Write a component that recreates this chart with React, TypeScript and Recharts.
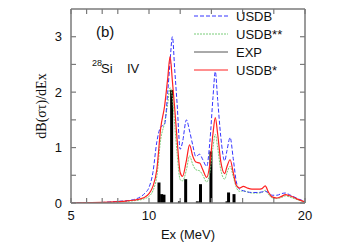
import { ComposedChart, Line, XAxis, YAxis, ReferenceLine } from "recharts"

// excitation energy grid (MeV) for the smoothed curves
const energy = [5, 6, 7, 8, 8.5, 9, 9.5, 9.75, 10, 10.25, 10.5, 10.75, 11, 11.2, 11.35, 11.5, 11.65, 11.8, 12, 12.15, 12.4, 12.6, 12.8, 13, 13.25, 13.45, 13.7, 13.9, 14.1, 14.25, 14.4, 14.6, 14.85, 15, 15.2, 15.4, 15.6, 15.8, 16.05, 16.3, 16.6, 17, 17.25, 17.45, 17.65, 17.9, 18.2, 18.5, 18.75, 19, 19.3, 19.6, 20]

const usdb = [0, 0.005, 0.01, 0.03, 0.04, 0.06, 0.12, 0.18, 0.28, 0.55, 1.1, 1.37, 1.42, 2.0, 2.55, 3.0, 2.4, 1.8, 0.97, 1.1, 1.5, 1.3, 1.05, 0.84, 0.88, 0.78, 0.66, 1.1, 1.9, 2.37, 1.87, 1.2, 0.76, 0.95, 1.18, 0.8, 0.38, 0.25, 0.22, 0.2, 0.19, 0.19, 0.2, 0.21, 0.19, 0.14, 0.14, 0.17, 0.18, 0.15, 0.11, 0.07, 0.03]

const usdbStar = [0, 0.005, 0.01, 0.025, 0.035, 0.05, 0.08, 0.11, 0.17, 0.3, 0.6, 1.35, 1.75, 2.25, 2.64, 2.2, 1.7, 1.15, 0.55, 0.48, 0.77, 1.05, 0.85, 0.74, 0.72, 0.6, 0.46, 0.7, 1.25, 1.54, 1.25, 0.75, 0.53, 0.66, 0.78, 0.55, 0.32, 0.27, 0.3, 0.27, 0.25, 0.25, 0.26, 0.31, 0.2, 0.11, 0.09, 0.12, 0.15, 0.13, 0.1, 0.06, 0.02]

const usdbStar2 = [0, 0.003, 0.008, 0.02, 0.03, 0.04, 0.06, 0.08, 0.12, 0.22, 0.48, 1.15, 1.45, 1.8, 2.08, 1.9, 1.4, 0.9, 0.42, 0.4, 0.6, 0.85, 0.7, 0.6, 0.58, 0.5, 0.38, 0.55, 1.0, 1.24, 1.0, 0.6, 0.43, 0.55, 0.66, 0.48, 0.28, 0.21, 0.22, 0.2, 0.18, 0.18, 0.19, 0.23, 0.16, 0.09, 0.08, 0.1, 0.13, 0.11, 0.08, 0.05, 0.02]

// experimental strengths
const expEnergy = [10.64, 10.81, 10.96, 11.45, 11.95, 12.35, 13.1, 13.3, 13.97, 15.0, 15.1, 15.45]
const expStrength = [0.37, 0.16, 0.15, 2.04, 0.03, 0.43, 0.03, 0.34, 0.93, 0.03, 0.19, 0.16]

const xTicks = [5, 6, 7, 8, 9, 10, 11, 12, 13, 14, 15, 16, 17, 18, 19, 20]
const yTicks = [0, 0.5, 1, 1.5, 2, 2.5, 3]

const legendItems = [
  { label: "USDB", color: "#3535ff", dash: "4 2" },
  { label: "USDB**", color: "#78cc78", dash: "2 1" },
  { label: "EXP", color: "#555", dash: undefined },
  { label: "USDB*", color: "#ff2020", dash: undefined },
]

const rows = energy.map((E, i) => ({ E, usdb: usdb[i], usdbStar: usdbStar[i], usdbStar2: usdbStar2[i] }))

const frame = "#7a7a7a"
const sans = "'Liberation Sans', Arial, sans-serif"

function BottomTick({ x, y, payload }: any) {
  const major = payload.value % 5 === 0
  return (
    <g>
      <line x1={x} y1={y} x2={x} y2={y - 5} stroke={frame} strokeWidth={1.2} />
      {major && (
        <text x={x} y={y + 17} textAnchor="middle" fontSize={13} fontFamily={sans} fill="#111">
          {payload.value}
        </text>
      )}
    </g>
  )
}

function TopTick({ x, y }: any) {
  return <line x1={x} y1={y} x2={x} y2={y + 5} stroke={frame} strokeWidth={1.2} />
}

function LeftTick({ x, y, payload }: any) {
  const major = Number.isInteger(payload.value)
  return (
    <g>
      <line x1={x} y1={y} x2={x + 5} y2={y} stroke={frame} strokeWidth={1.2} />
      {major && (
        <text x={x - 9} y={y + 4.5} textAnchor="end" fontSize={13} fontFamily={sans} fill="#111">
          {payload.value}
        </text>
      )}
    </g>
  )
}

function RightTick({ x, y }: any) {
  return <line x1={x} y1={y} x2={x - 5} y2={y} stroke={frame} strokeWidth={1.2} />
}

export default function App() {
  return (
    <div style={{ position: "absolute", left: 0, top: 0, width: 351, height: 248, background: "#fff" }}>
      <ComposedChart width={351} height={248} data={rows} margin={{ top: 8, right: 45, left: 31, bottom: 15 }}>
        <XAxis dataKey="E" type="number" domain={[5, 20]} ticks={xTicks} allowDataOverflow
          height={30} tickSize={0} tickMargin={0} tick={<BottomTick />} stroke={frame} strokeWidth={1.5}
          label={{ value: "Ex (MeV)", position: "insideBottom", offset: -6, fontSize: 13, fontFamily: sans, fill: "#111" }} />
        <XAxis xAxisId="top" orientation="top" dataKey="E" type="number" domain={[5, 20]} ticks={xTicks} allowDataOverflow
          height={1} tickSize={0} tickMargin={0} tick={<TopTick />} stroke={frame} strokeWidth={1.5} />
        <YAxis type="number" domain={[0, 3.5]} ticks={yTicks} allowDataOverflow width={40}
          tickSize={0} tickMargin={0} tick={<LeftTick />} stroke={frame} strokeWidth={1.5}
          label={{ value: "dB(στ)/dEx", angle: -90, position: "insideLeft", offset: 10, fontSize: 14, fontFamily: "'Liberation Serif', serif", fill: "#111", style: { textAnchor: "middle" } }} />
        <YAxis yAxisId="right" orientation="right" type="number" domain={[0, 3.5]} ticks={yTicks} allowDataOverflow width={1}
          tickSize={0} tickMargin={0} tick={<RightTick />} stroke={frame} strokeWidth={1.5} />
        {expEnergy.map((E, i) => (
          <ReferenceLine key={E} segment={[{ x: E, y: 0 }, { x: E, y: expStrength[i] }]} stroke="#000" strokeWidth={3} />
        ))}
        <Line xAxisId="top" dataKey="usdbStar2" type="monotone" stroke="#78cc78" strokeWidth={1} strokeDasharray="2 1" dot={false} isAnimationActive={false} />
        <Line dataKey="usdb" type="monotone" stroke="#3535ff" strokeWidth={1} strokeDasharray="4 2" dot={false} isAnimationActive={false} />
        <Line yAxisId="right" dataKey="usdbStar" type="monotone" stroke="#ff2020" strokeWidth={1.2} dot={false} isAnimationActive={false} />
      </ComposedChart>
      <svg width={351} height={248} style={{ position: "absolute", left: 0, top: 0, pointerEvents: "none" }}>
        <text x={96} y={37} fontSize={15} fontFamily={sans} fill="#111">(b)</text>
        <text x={92} y={66} fontSize={9} fontFamily={sans} fill="#111">28</text>
        <text x={101} y={73} fontSize={13} fontFamily={sans} fill="#111">Si</text>
        <text x={127} y={73} fontSize={13} fontFamily={sans} fill="#111">IV</text>
        {legendItems.map((item, i) => (
          <g key={item.label}>
            <line x1={194} y1={16 + i * 18} x2={228} y2={16 + i * 18} stroke={item.color} strokeWidth={1} strokeDasharray={item.dash} />
            <text x={236} y={21 + i * 18} fontSize={13} fontFamily={sans} fill="#111">{item.label}</text>
          </g>
        ))}
      </svg>
    </div>
  )
}
